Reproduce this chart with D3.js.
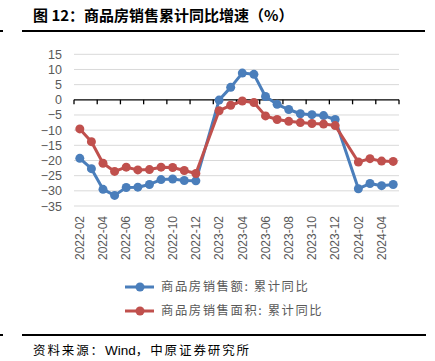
<!DOCTYPE html>
<html><head><meta charset="utf-8">
<script src="https://cdn.jsdelivr.net/npm/d3@7"></script>
<style>
html,body{margin:0;padding:0;background:#fff;}
svg{display:block;}
</style></head>
<body>
<svg id="c" width="435" height="361"></svg>
<script>
const categories = ["2022-02","2022-03","2022-04","2022-05","2022-06","2022-07","2022-08","2022-09","2022-10","2022-11","2022-12",
"2023-01","2023-02","2023-03","2023-04","2023-05","2023-06","2023-07","2023-08","2023-09","2023-10","2023-11","2023-12",
"2024-01","2024-02","2024-03","2024-04","2024-05"];
const salesAmount = [-19.3,-22.7,-29.5,-31.5,-28.9,-28.8,-27.9,-26.3,-26.1,-26.6,-26.7,
null,-0.1,4.1,8.8,8.4,1.1,-1.5,-3.2,-4.6,-4.9,-5.2,-6.5,
null,-29.3,-27.6,-28.3,-27.9];
const salesArea = [-9.6,-13.8,-20.9,-23.6,-22.2,-23.1,-23.0,-22.2,-22.3,-23.3,-24.3,
null,-3.6,-1.8,-0.4,-0.9,-5.3,-6.5,-7.1,-7.5,-7.8,-8.0,-8.5,
null,-20.5,-19.4,-20.2,-20.3];
const yTicks = [15,10,5,0,-5,-10,-15,-20,-25,-30,-35];
const seriesNames = ["商品房销售额: 累计同比","商品房销售面积: 累计同比"];
const titleText = "图 12：商品房销售累计同比增速（%）";
const sourceParts = ["资料来源：","Wind","，中原证券研究所"];

const svg = d3.select("#c");
const colors = ["#4A7EBB","#C0504D"];
const L = 74, R = 399, T = 54.3, B = 206;

const x = d3.scaleBand().domain(categories).range([L, R]).padding(0);
const y = d3.scaleLinear().domain([-35, 15]).range([B, T]);

// title
svg.append("text").attr("x", 33).attr("y", 21)
  .attr("font-family", "'Noto Sans CJK SC', sans-serif").attr("font-weight", "bold")
  .attr("font-size", 15).attr("fill", "#000").text(titleText);
svg.append("line").attr("x1", 22).attr("x2", 425).attr("y1", 31).attr("y2", 31)
  .attr("stroke", "#000").attr("stroke-width", 2);
svg.append("line").attr("x1", 0).attr("x2", 3).attr("y1", 31).attr("y2", 31)
  .attr("stroke", "#000").attr("stroke-width", 2);

// gridlines
svg.append("g").selectAll("line").data(yTicks.filter(d => d !== 0)).join("line")
  .attr("x1", L).attr("x2", R).attr("y1", d => y(d)).attr("y2", d => y(d))
  .attr("stroke", "#d9d9d9").attr("stroke-width", 1);

// y axis labels
const yAxis = d3.axisLeft(y).tickValues(yTicks).tickSize(0).tickPadding(0);
const gy = svg.append("g").attr("transform", `translate(62,0)`).call(yAxis);
gy.select(".domain").remove();
gy.selectAll("text").attr("font-family", "'Liberation Sans', Arial, sans-serif")
  .attr("font-size", 12.5).attr("fill", "#595959");

// x axis (zero line)
svg.append("line").attr("x1", L).attr("x2", R).attr("y1", y(0)).attr("y2", y(0))
  .attr("stroke", "#000").attr("stroke-width", 1.3);
const tickPos = categories.filter((d, i) => i % 2 === 0).map(d => x(d)).concat([R]);
svg.append("g").selectAll("line").data(tickPos).join("line")
  .attr("x1", d => d).attr("x2", d => d).attr("y1", y(0)).attr("y2", y(0) + 4.5)
  .attr("stroke", "#000").attr("stroke-width", 1.3);

// x labels
const xLabels = categories.filter((d, i) => i % 2 === 0);
const xAxis = d3.axisBottom(x).tickValues(xLabels).tickSize(0).tickPadding(0);
const gx = svg.append("g").attr("transform", `translate(0,216)`).call(xAxis);
gx.select(".domain").remove();
gx.selectAll("text").attr("font-family", "'Liberation Sans', Arial, sans-serif")
  .attr("font-size", 12).attr("fill", "#595959")
  .attr("text-anchor", "end").attr("transform", "rotate(-90)")
  .attr("x", 0).attr("y", 0).attr("dy", "0.35em");

// series
const cx = d => x(d) + x.bandwidth() / 2;
[salesAmount, salesArea].forEach((vals, si) => {
  const pts = categories.map((c, i) => ({c, v: vals[i]})).filter(d => d.v !== null);
  const line = d3.line().x(d => cx(d.c)).y(d => y(d.v));
  svg.append("path").datum(pts).attr("d", line).attr("fill", "none")
    .attr("stroke", colors[si]).attr("stroke-width", 3).attr("stroke-linejoin", "round");
  svg.append("g").selectAll("circle").data(pts).join("circle")
    .attr("cx", d => cx(d.c)).attr("cy", d => y(d.v)).attr("r", 4.5).attr("fill", colors[si]);
});

// legend
const legY = [287, 311];
seriesNames.forEach((n, i) => {
  const g = svg.append("g");
  g.append("line").attr("x1", 125).attr("x2", 154).attr("y1", legY[i]).attr("y2", legY[i])
    .attr("stroke", colors[i]).attr("stroke-width", 3);
  g.append("circle").attr("cx", 140).attr("cy", legY[i]).attr("r", 4.5).attr("fill", colors[i]);
  g.append("text").attr("x", 161).attr("y", legY[i]).attr("dy", "0.36em")
    .attr("font-family", "'Noto Sans CJK SC', sans-serif").attr("font-size", 12.3)
    .attr("letter-spacing", 1.6)
    .attr("fill", "#595959").text(n);
});

// bottom rule and source
svg.append("line").attr("x1", 22).attr("x2", 426).attr("y1", 335).attr("y2", 335)
  .attr("stroke", "#000").attr("stroke-width", 2);
svg.append("line").attr("x1", 0).attr("x2", 3).attr("y1", 335).attr("y2", 335)
  .attr("stroke", "#000").attr("stroke-width", 2);
const src = svg.append("text").attr("x", 33).attr("y", 355)
  .attr("font-family", "'Noto Sans CJK SC', sans-serif").attr("font-size", 12.5)
  .attr("fill", "#000");
src.selectAll("tspan").data(sourceParts).join("tspan")
  .attr("font-family", (d, i) => i === 1 ? "'Liberation Sans', Arial, sans-serif" : null)
  .attr("font-size", (d, i) => i === 1 ? 13.5 : null)
  .attr("letter-spacing", (d, i) => i === 1 ? 0 : 1.9)
  .text(d => d);
</script>
</body></html>
